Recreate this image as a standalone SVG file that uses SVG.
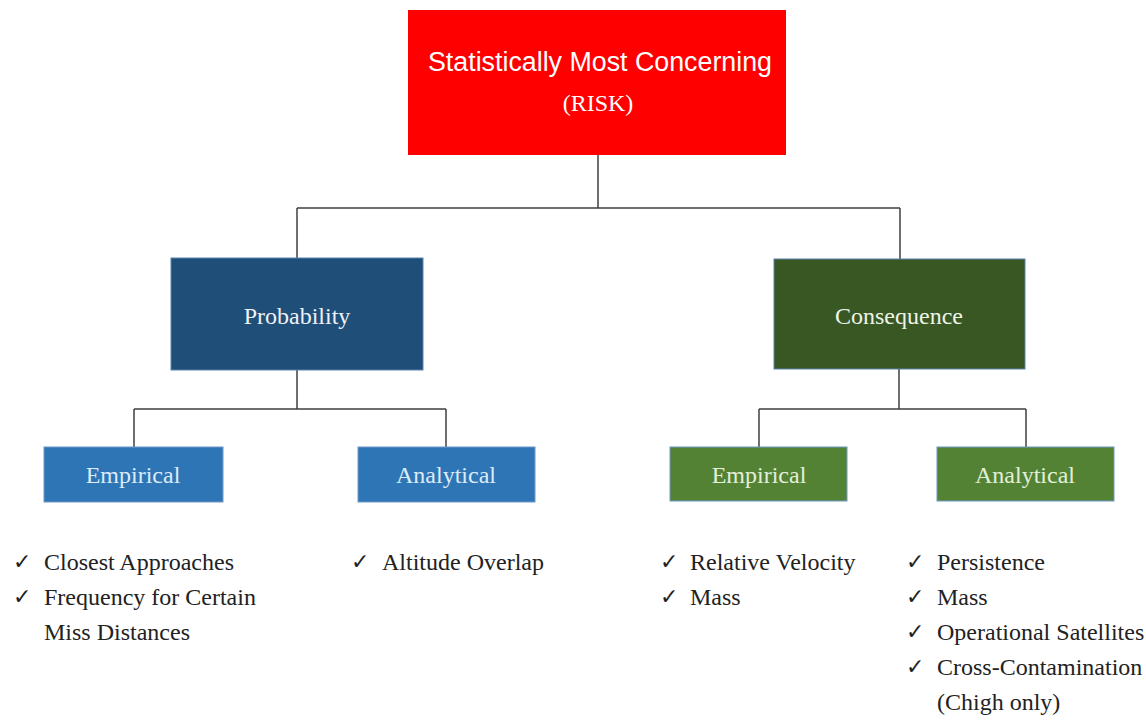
<svg xmlns="http://www.w3.org/2000/svg" width="1146" height="722" viewBox="0 0 1146 722">
  <style>
    .lbl { font-family: "Liberation Serif", "Times New Roman", serif; font-size: 24px; text-anchor: middle; }
    .list { font-family: "Liberation Serif", "Times New Roman", serif; font-size: 24px; fill: #222222; }
    .chk { font-family: "DejaVu Sans", sans-serif; font-size: 22px; fill: #222222; }
    .conn { stroke: #404040; stroke-width: 1.5; fill: none; }
    .box { stroke-width: 1; }
  </style>
  <rect width="1146" height="722" fill="#ffffff"/>

  <g id="connectors">
    <path class="conn" d="M598,155 V208 M297,208 H900 M297,208 V259 M900,208 V259"/>
    <path class="conn" d="M297,370 V409 M134,409 H446 M134,409 V447 M446,409 V447"/>
    <path class="conn" d="M899,369 V409 M759,409 H1026 M759,409 V447 M1026,409 V447"/>
  </g>

  <g id="node-risk">
    <rect x="408" y="10" width="378" height="145" fill="#ff0000"/>
    <text x="600" y="71" font-family="Liberation Sans, Arial, sans-serif" font-size="27" fill="#ffffff" text-anchor="middle" textLength="344" lengthAdjust="spacingAndGlyphs">Statistically Most Concerning</text>
    <text x="598" y="111" class="lbl" fill="#ffffff">(RISK)</text>
  </g>

  <g id="node-probability">
    <rect class="box" x="171" y="258" width="252" height="112" fill="#1f4e79" stroke="#5a82ad"/>
    <text x="297" y="324" class="lbl" fill="#eef2f7">Probability</text>
  </g>

  <g id="node-consequence">
    <rect class="box" x="774" y="259" width="251" height="110" fill="#385723" stroke="#5a82ad"/>
    <text x="899" y="324" class="lbl" fill="#eef4e8">Consequence</text>
  </g>

  <g id="node-prob-empirical">
    <rect class="box" x="44" y="447" width="179" height="55" fill="#2e75b6" stroke="#6f98c4"/>
    <text x="133" y="483" class="lbl" fill="#ddebf7">Empirical</text>
  </g>

  <g id="node-prob-analytical">
    <rect class="box" x="358" y="447" width="177" height="55" fill="#2e75b6" stroke="#6f98c4"/>
    <text x="446" y="483" class="lbl" fill="#ddebf7">Analytical</text>
  </g>

  <g id="node-cons-empirical">
    <rect class="box" x="670" y="447" width="177" height="54" fill="#548235" stroke="#6f98c4"/>
    <text x="759" y="483" class="lbl" fill="#e2f0d9">Empirical</text>
  </g>

  <g id="node-cons-analytical">
    <rect class="box" x="937" y="447" width="177" height="54" fill="#548235" stroke="#6f98c4"/>
    <text x="1025" y="483" class="lbl" fill="#e2f0d9">Analytical</text>
  </g>

  <g id="list-prob-empirical">
    <text x="13" y="569" class="chk">✓</text>
    <text x="44" y="570" class="list">Closest Approaches</text>
    <text x="13" y="604" class="chk">✓</text>
    <text x="44" y="605" class="list">Frequency for Certain</text>
    <text x="44" y="640" class="list">Miss Distances</text>
  </g>

  <g id="list-prob-analytical">
    <text x="351" y="569" class="chk">✓</text>
    <text x="382" y="570" class="list">Altitude Overlap</text>
  </g>

  <g id="list-cons-empirical">
    <text x="660" y="569" class="chk">✓</text>
    <text x="690" y="570" class="list">Relative Velocity</text>
    <text x="660" y="604" class="chk">✓</text>
    <text x="690" y="605" class="list">Mass</text>
  </g>

  <g id="list-cons-analytical">
    <text x="906" y="569" class="chk">✓</text>
    <text x="937" y="570" class="list">Persistence</text>
    <text x="906" y="604" class="chk">✓</text>
    <text x="937" y="605" class="list">Mass</text>
    <text x="906" y="639" class="chk">✓</text>
    <text x="937" y="640" class="list">Operational Satellites</text>
    <text x="906" y="674" class="chk">✓</text>
    <text x="937" y="675" class="list">Cross-Contamination</text>
    <text x="937" y="710" class="list">(Chigh only)</text>
  </g>
</svg>
